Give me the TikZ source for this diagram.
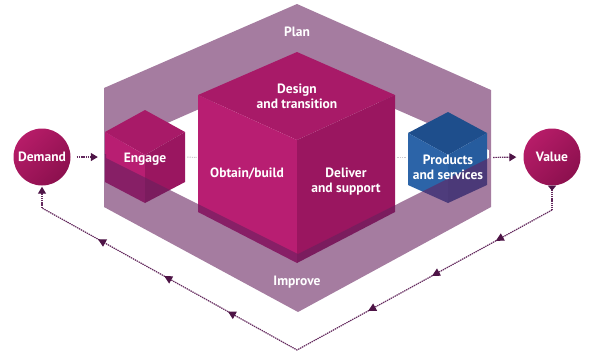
\documentclass[tikz,border=0pt]{standalone}
\usepackage{fontspec}
\setmainfont{PT Sans}
\usetikzlibrary{arrows.meta,decorations.markings}
\definecolor{vctop}{RGB}{168,26,104}
\definecolor{vcleft}{RGB}{184,30,114}
\definecolor{vcright}{RGB}{154,22,96}
\definecolor{vcbluetop}{RGB}{30,78,140}
\definecolor{vcblueleft}{RGB}{44,100,168}
\definecolor{vcblueright}{RGB}{38,92,158}
\definecolor{vcband}{RGB}{102,33,94}
\definecolor{vccirclehi}{RGB}{182,28,104}
\definecolor{vccirclelo}{RGB}{140,16,78}
\definecolor{vcline}{RGB}{100,42,94}
\definecolor{vctip}{RGB}{78,20,70}
\definecolor{vcfaint}{RGB}{205,200,205}

\begin{document}
\begin{tikzpicture}[x=1pt, y=-1pt,
    txt/.style={text=white, font=\bfseries\fontsize{13.5}{15}\selectfont, align=center, inner sep=0pt},
    disc/.style={circle, top color=vccirclehi, bottom color=vccirclelo, shading angle=45, minimum size=57pt, inner sep=0pt, text=white, font=\bfseries\fontsize{13.5}{15}\selectfont},
    hull/.style={inner sep=0pt, draw=none},
    band/.style={fill=vcband, fill opacity=0.59},
    flow/.style={vcline, line width=1.2pt, dash pattern=on 1.4pt off 0.8pt, -{Triangle[length=7pt, width=8pt, color=vctip]}},
    faint/.style={vcfaint, line width=1pt, dash pattern=on 1.4pt off 0.9pt},
    loopline/.style={vcline, line width=1.2pt, dash pattern=on 1.4pt off 0.8pt},
    midarrows/.style={postaction={decorate}, decoration={markings,
      mark=at position 0.11 with {\arrow{Triangle[length=8pt, width=8pt, color=vctip]}},
      mark=at position 0.235 with {\arrow{Triangle[length=8pt, width=8pt, color=vctip]}},
      mark=at position 0.36 with {\arrow{Triangle[length=8pt, width=8pt, color=vctip]}},
      mark=at position 0.635 with {\arrow{Triangle[length=8pt, width=8pt, color=vctip]}},
      mark=at position 0.76 with {\arrow{Triangle[length=8pt, width=8pt, color=vctip]}},
      mark=at position 0.89 with {\arrow{Triangle[length=8pt, width=8pt, color=vctip]}}}}
  ]
  \useasboundingbox (0,0) rectangle (593,360);

  % Plan band (back half)
  \fill[band] (104,88) -- (297,4) -- (491,90) -- (491,154) -- (489,154) -- (489,150)
    -- (297,66) -- (106,150) -- (106,154) -- (104,154) -- cycle;

  % Cube outlines as named hulls
  \node[hull, minimum width=80pt, minimum height=93pt] (engage) at (145,157) {};
  \node[hull, minimum width=197pt, minimum height=211pt] (core) at (296.5,157.5) {};
  \node[hull, minimum width=79pt, minimum height=91pt] (products) at (447.5,157.5) {};

  % Faint links between cubes
  \draw[faint, shorten <=2pt, shorten >=1pt] (engage.east) -- (core.west);
  \draw[faint, shorten <=2pt, shorten >=2pt] (core.east) -- (products.west);

  % Engage cube
  \fill[vctop] (145,110) -- (105,132) -- (145,155) -- (185,132) -- cycle;
  \fill[vcleft] (105,132) -- (145,155) -- (145,203) -- (105,182) -- cycle;
  \fill[vcright] (185,132) -- (145,155) -- (145,203) -- (185,182) -- cycle;

  % Big cube
  \fill[vctop] (297,52) -- (198,95) -- (297,140) -- (395,95) -- cycle;
  \fill[vcleft] (198,95) -- (297,140) -- (297,263) -- (198,212) -- cycle;
  \fill[vcright] (395,95) -- (297,140) -- (297,263) -- (395,212) -- cycle;

  % Products cube
  \fill[vcbluetop] (448,112) -- (408,133) -- (448,155) -- (487,133) -- cycle;
  \fill[vcblueleft] (408,133) -- (448,155) -- (448,203) -- (408,185) -- cycle;
  \fill[vcblueright] (487,133) -- (448,155) -- (448,203) -- (487,185) -- cycle;

  % Improve band (front half)
  \fill[band] (104,154) -- (106,154) -- (106,158) -- (298,254) -- (489,158) -- (489,154)
    -- (491,154) -- (491,207) -- (298,312) -- (104,207) -- cycle;

  % Labels
  \node[txt] (plan) at (297,32) {Plan};
  \node[txt] (design) at (297,96) {Design\\and transition};
  \node[txt] (obtain) at (247,174) {Obtain/build};
  \node[txt] (deliver) at (346,182) {Deliver\\and support};
  \node[txt] (engagetxt) at (145,159) {Engage};
  \node[txt] (productstxt) at (448,167) {Products\\and services};
  \node[txt] (improve) at (297,282) {Improve};

  % Demand and value
  \node[disc] (demand) at (42,157) {Demand};
  \node[disc] (value) at (552,157) {Value};
  \draw[flow, shorten <=6pt, shorten >=7pt] (demand.east) -- (engage.west);
  \draw[flow, shorten <=6pt, shorten >=7pt] (products.east) -- (value.west);

  % Feedback loop
  \coordinate (fb-right) at (552,210);
  \coordinate (fb-bottom) at (297,350);
  \coordinate (fb-left) at (42,208);
  \draw[loopline, {Triangle[reversed, length=5pt, width=8pt, color=vctip]}-] (value.south) -- (fb-right);
  \draw[loopline, midarrows] (fb-right) -- (fb-bottom) -- (fb-left);
  \draw[loopline, -{Triangle[length=7pt, width=8pt, color=vctip]}, shorten >=1pt] (fb-left) -- (demand.south);
\end{tikzpicture}
\end{document}
